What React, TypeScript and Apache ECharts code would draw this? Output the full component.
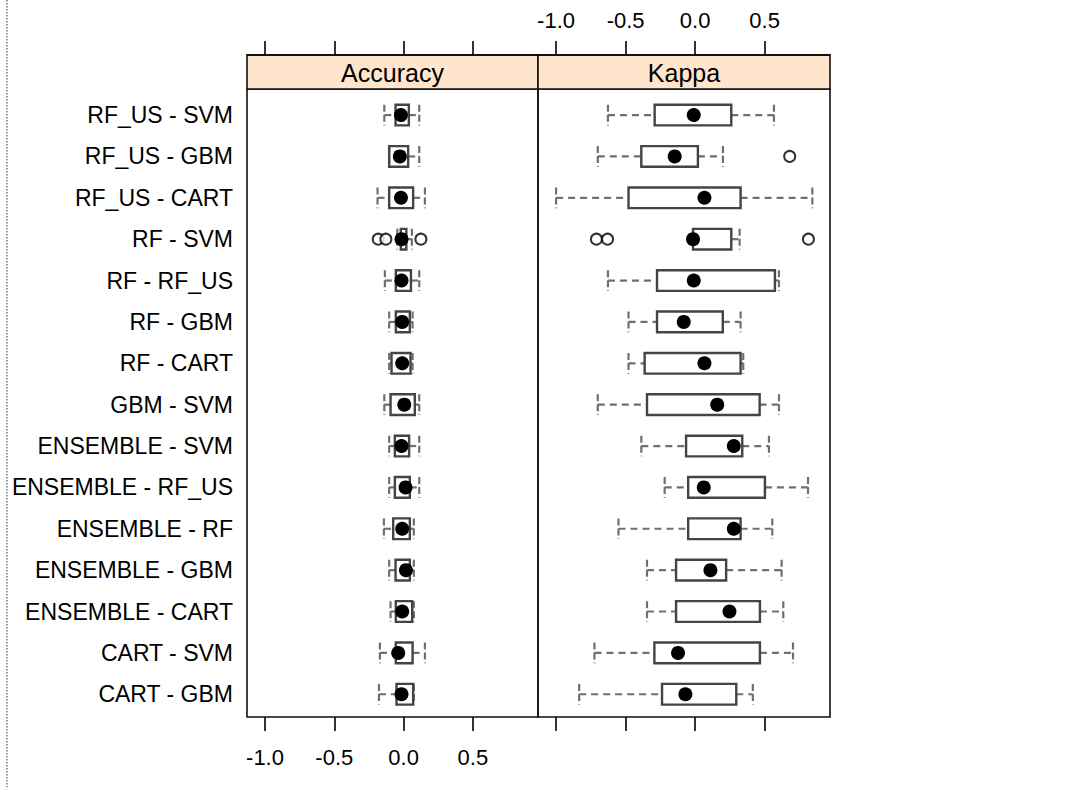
import React, { useEffect, useRef } from "react";
import * as echarts from "echarts";

const rows = [
  "RF_US - SVM", "RF_US - GBM", "RF_US - CART", "RF - SVM", "RF - RF_US",
  "RF - GBM", "RF - CART", "GBM - SVM", "ENSEMBLE - SVM", "ENSEMBLE - RF_US",
  "ENSEMBLE - RF", "ENSEMBLE - GBM", "ENSEMBLE - CART", "CART - SVM", "CART - GBM",
];
const panels = ["Accuracy", "Kappa"];
const tickValues = [-1, -0.5, 0, 0.5];

const accLow = [-0.139, -0.104, -0.188, -0.045, -0.135, -0.104, -0.104, -0.139, -0.104, -0.104, -0.142, -0.104, -0.094, -0.171, -0.178];
const accQ1 = [-0.058, -0.104, -0.104, -0.02, -0.056, -0.056, -0.087, -0.094, -0.063, -0.063, -0.075, -0.058, -0.056, -0.056, -0.051];
const accMed = [-0.019, -0.027, -0.019, -0.015, -0.015, -0.01, -0.01, 0.005, -0.015, 0.014, -0.01, 0.017, -0.01, -0.039, -0.015];
const accQ3 = [0.038, 0.033, 0.069, 0.02, 0.053, 0.045, 0.05, 0.081, 0.04, 0.045, 0.045, 0.045, 0.062, 0.065, 0.069];
const accHigh = [0.113, 0.113, 0.154, 0.06, 0.113, 0.065, 0.065, 0.113, 0.113, 0.113, 0.074, 0.074, 0.074, 0.154, 0.074];
const accOutRows = [3, 3, 3];
const accOutVals = [-0.183, -0.128, 0.125];

const kapLow = [-0.627, -0.7, -1.0, -0.015, -0.627, -0.479, -0.479, -0.7, -0.387, -0.219, -0.551, -0.346, -0.346, -0.724, -0.834];
const kapQ1 = [-0.291, -0.387, -0.479, -0.015, -0.274, -0.274, -0.363, -0.346, -0.065, -0.05, -0.05, -0.137, -0.137, -0.293, -0.238];
const kapMed = [-0.01, -0.147, 0.067, -0.015, -0.01, -0.082, 0.067, 0.159, 0.278, 0.062, 0.278, 0.11, 0.247, -0.123, -0.07];
const kapQ3 = [0.26, 0.02, 0.327, 0.26, 0.574, 0.199, 0.327, 0.464, 0.339, 0.502, 0.327, 0.223, 0.466, 0.466, 0.296];
const kapHigh = [0.567, 0.2, 0.843, 0.32, 0.603, 0.327, 0.346, 0.603, 0.531, 0.812, 0.555, 0.622, 0.634, 0.704, 0.415];
const kapOutRows = [1, 3, 3, 3];
const kapOutVals = [0.68, -0.71, -0.63, 0.815];

const FONT = "Liberation Sans, Arial, sans-serif";
const X_MIN = -1.13;
const X_MAX = 0.97;
const Y_MIN = 0.37;
const Y_MAX = 15.55;

function boxData(lo: number[], q1: number[], med: number[], q3: number[], hi: number[]) {
  return rows.map((_, i) => [i + 1, lo[i], q1[i], med[i], q3[i], hi[i]]);
}

const WHISKER = "#707070";
const whiskerStyle = { stroke: WHISKER, lineWidth: 2.2, lineDash: [7, 5] };
const capStyle = { stroke: WHISKER, lineWidth: 2.2, lineDash: [7, 3] };

function renderBox(params: any, api: any) {
  const y = api.value(0);
  const lo = api.coord([api.value(1), y]);
  const q1 = api.coord([api.value(2), y]);
  const md = api.coord([api.value(3), y]);
  const q3 = api.coord([api.value(4), y]);
  const hi = api.coord([api.value(5), y]);
  const band = Math.abs(api.size([0, 1])[1]);
  const h = band * 0.5;
  const cy = md[1];
  const children: any[] = [
    { type: "line", shape: { x1: lo[0], y1: cy, x2: q1[0], y2: cy }, style: whiskerStyle },
    { type: "line", shape: { x1: q3[0], y1: cy, x2: hi[0], y2: cy }, style: whiskerStyle },
    { type: "line", shape: { x1: lo[0], y1: cy - h / 2, x2: lo[0], y2: cy + h / 2 }, style: capStyle },
    { type: "line", shape: { x1: hi[0], y1: cy - h / 2, x2: hi[0], y2: cy + h / 2 }, style: capStyle },
    { type: "rect", shape: { x: q1[0], y: cy - h / 2, width: Math.max(q3[0] - q1[0], 0.5), height: h }, style: { fill: "none", stroke: "#444", lineWidth: 2.4 } },
    { type: "circle", shape: { cx: md[0], cy, r: 7 }, style: { fill: "#000" } },
  ];
  return { type: "group", children };
}

function xAxisDef(grid: number, pos: "top" | "bottom", showLabels: boolean) {
  return {
    type: "value",
    gridIndex: grid,
    position: pos,
    offset: pos === "top" ? 34 : 0,
    min: X_MIN,
    max: X_MAX,
    splitLine: { show: false },
    axisLine: { show: pos === "top", lineStyle: { color: "#000", width: 1.5 } },
    axisTick: {
      show: true,
      inside: false,
      length: 14,
      customValues: tickValues,
      lineStyle: { color: "#000", width: 1.6 },
    },
    axisLabel: {
      show: showLabels,
      customValues: tickValues,
      margin: pos === "top" ? 24 : 29,
      color: "#000",
      fontFamily: FONT,
      fontSize: 22,
      formatter: (v: number) => v.toFixed(1),
    },
  };
}

function yAxisDef(grid: number, showLabels: boolean) {
  return {
    type: "value",
    gridIndex: grid,
    min: Y_MIN,
    max: Y_MAX,
    inverse: true,
    splitLine: { show: false },
    axisLine: { show: false },
    axisTick: { show: false },
    axisLabel: {
      show: showLabels,
      customValues: rows.map((_, i) => i + 1),
      margin: 14,
      color: "#000",
      fontFamily: FONT,
      fontSize: 23,
      formatter: (v: number) => rows[Math.round(v) - 1] ?? "",
    },
  };
}

export default function App() {
  const ref = useRef<HTMLDivElement>(null);
  useEffect(() => {
    document.body.style.margin = "0";
    if (!ref.current) return;
    const chart = echarts.init(ref.current, undefined, { renderer: "svg" });
    const W = 1092;
    const H = 787;
    const L1 = 247, R1 = 538, R2 = 830, TOP = 89, BOT = 717, STRIP = 55;
    const option: any = {
      animation: false,
      backgroundColor: "#fff",
      grid: [
        { left: L1, right: W - R1, top: TOP, bottom: H - BOT, show: true, borderColor: "#111", borderWidth: 1.6, backgroundColor: "transparent" },
        { left: R1, right: W - R2, top: TOP, bottom: H - BOT, show: true, borderColor: "#111", borderWidth: 1.6, backgroundColor: "transparent" },
      ],
      xAxis: [
        xAxisDef(0, "bottom", true),
        xAxisDef(0, "top", false),
        xAxisDef(1, "bottom", false),
        xAxisDef(1, "top", true),
      ],
      yAxis: [yAxisDef(0, true), yAxisDef(1, false)],
      graphic: [
        { type: "line", shape: { x1: 7, y1: 0, x2: 7, y2: H }, style: { stroke: "#333", lineWidth: 1, lineDash: [1.5, 1.5] } },
        { type: "rect", shape: { x: L1, y: STRIP, width: R1 - L1, height: TOP - STRIP }, style: { fill: "#ffe5cc", stroke: "#111", lineWidth: 1.6 } },
        { type: "rect", shape: { x: R1, y: STRIP, width: R2 - R1, height: TOP - STRIP }, style: { fill: "#ffe5cc", stroke: "#111", lineWidth: 1.6 } },
        { type: "text", x: (L1 + R1) / 2, y: (STRIP + TOP) / 2 + 1, style: { text: panels[0], fontFamily: FONT, fontSize: 25, fill: "#000", textAlign: "center", textVerticalAlign: "middle" } },
        { type: "text", x: (R1 + R2) / 2, y: (STRIP + TOP) / 2 + 1, style: { text: panels[1], fontFamily: FONT, fontSize: 25, fill: "#000", textAlign: "center", textVerticalAlign: "middle" } },
      ],
      series: [
        {
          type: "custom",
          name: panels[0],
          xAxisIndex: 0,
          yAxisIndex: 0,
          renderItem: renderBox,
          encode: { x: [1, 2, 3, 4, 5], y: 0 },
          data: boxData(accLow, accQ1, accMed, accQ3, accHigh),
          z: 3,
        },
        {
          type: "custom",
          name: panels[1],
          xAxisIndex: 2,
          yAxisIndex: 1,
          renderItem: renderBox,
          encode: { x: [1, 2, 3, 4, 5], y: 0 },
          data: boxData(kapLow, kapQ1, kapMed, kapQ3, kapHigh),
          z: 3,
        },
        {
          type: "scatter",
          xAxisIndex: 0,
          yAxisIndex: 0,
          symbol: "emptyCircle",
          symbolSize: 11,
          itemStyle: { color: "#000", borderColor: "#000", borderWidth: 1.6 },
          data: accOutVals.map((v, i) => [v, accOutRows[i] + 1]),
          z: 4,
        },
        {
          type: "scatter",
          xAxisIndex: 2,
          yAxisIndex: 1,
          symbol: "emptyCircle",
          symbolSize: 11,
          itemStyle: { color: "#000", borderColor: "#000", borderWidth: 1.6 },
          data: kapOutVals.map((v, i) => [v, kapOutRows[i] + 1]),
          z: 4,
        },
      ],
    };
    chart.setOption(option);
    return () => chart.dispose();
  }, []);
  return <div ref={ref} style={{ width: 1092, height: 787 }} />;
}
